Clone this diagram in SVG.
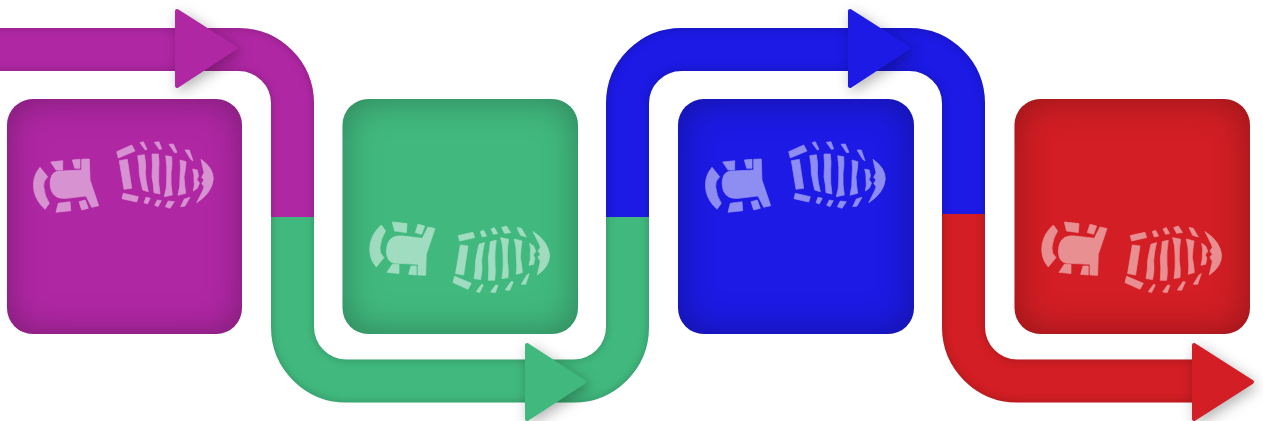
<svg xmlns="http://www.w3.org/2000/svg" xmlns:xlink="http://www.w3.org/1999/xlink" width="1263" height="421" viewBox="0 0 1263 421">
<style>
.band{fill:none;stroke-width:43}
.purple{stroke:#b027a4}.green{stroke:#41b97e}.blue{stroke:#1c1ae4}.red{stroke:#d21e24}
.head{stroke-width:4;stroke-linejoin:round;filter:url(#drop)}
.fpurple{fill:#b027a4}.fgreen{fill:#41b97e}.fblue{fill:#1c1ae4}.fred{fill:#d21e24}
.card{filter:url(#insetBig)}
.print{fill:#fff;stroke:#fff;stroke-width:.7;stroke-linejoin:round;opacity:.5}
</style>
<defs>
<filter id="insetBig" filterUnits="userSpaceOnUse" x="-60" y="40" width="1400" height="360" color-interpolation-filters="sRGB">
<feComponentTransfer in="SourceAlpha" result="inv"><feFuncA type="table" tableValues="1 0"/></feComponentTransfer>
<feGaussianBlur in="inv" stdDeviation="18" result="b"/>
<feFlood flood-color="#000" flood-opacity=".3"/>
<feComposite in2="b" operator="in"/>
<feComposite in2="SourceAlpha" operator="in" result="s"/>
<feMerge><feMergeNode in="SourceGraphic"/><feMergeNode in="s"/></feMerge>
</filter>
<filter id="inset" filterUnits="userSpaceOnUse" x="-100" y="-60" width="1500" height="600" color-interpolation-filters="sRGB">
<feComponentTransfer in="SourceAlpha" result="inv"><feFuncA type="table" tableValues="1 0"/></feComponentTransfer>
<feGaussianBlur in="inv" stdDeviation="5" result="b"/>
<feFlood flood-color="#000" flood-opacity=".22"/>
<feComposite in2="b" operator="in"/>
<feComposite in2="SourceAlpha" operator="in" result="s"/>
<feMerge><feMergeNode in="SourceGraphic"/><feMergeNode in="s"/></feMerge>
</filter>
<filter id="drop" filterUnits="userSpaceOnUse" x="-100" y="-60" width="1500" height="600" color-interpolation-filters="sRGB">
<feDropShadow dx="3" dy="4" stdDeviation="7" flood-color="#000" flood-opacity=".3"/>
</filter>
<clipPath id="cPurple"><rect x="0" y="0" width="340" height="217"/></clipPath>
<clipPath id="cGreen"><rect x="250" y="217" width="420" height="204"/></clipPath>
<clipPath id="cBlue"><rect x="590" y="0" width="420" height="214"/><rect x="590" y="214" width="60" height="3"/></clipPath>
<clipPath id="cRed"><rect x="920" y="214" width="290" height="207"/></clipPath>
<g id="print">
<path d="M40 167.3L47.7 176.7Q43 181 43.7 186.7Q44.5 196 49.3 203.3L45 209.3Q36 201 34 191Q31.5 177 40 167.3Z"/>
<path d="M50.7 162L62.7 160.7V170H56Z"/>
<path d="M72.3 160L80 159.3V168.3H74.7Z"/>
<path d="M81.7 159.3L89.3 159L90 180L98.7 205.7L91.7 207.3L86 196L66.7 198.3Q55 199.5 51.5 191Q48.5 182 52 175Q55 170.5 61 171L81.7 170Z"/>
<path d="M58.3 203.3L70 201.7L70.7 210.7L56 212.3Z"/>
<path d="M79 201.7L85.3 200L88.3 208.3L81.7 210Z"/>
<path d="M116.7 151.7L131.7 145L135 151L118.3 158Z"/>
<path d="M119.3 160.7L127.3 159.3L131.7 188.3L124 189.3Z"/>
<path d="M123.3 193.3L138.3 196.7L136.7 202L122 198.7Z"/>
<path d="M137.7 155.7L144.3 154.7Q146.5 165 145.3 173Q146 183 148.3 191.7L142.7 190Q140.5 181 139.3 173.3Q139.5 165 137.7 155.7Z"/>
<path d="M152 154L158.3 154Q159.5 162 158.7 170Q158 183 160 194L154 192.7Q153.5 184 152 176.7Q153 165 152 154Z"/>
<path d="M165.7 155.7L171.7 156.7Q172.5 165 171 173.3Q170.5 185 172.3 195L164.3 196.7Q167 188 166.7 180Q167.5 167 165.7 155.7Z"/>
<path d="M180 160L186 161.7Q185.5 170 184 176.7Q184.5 186 185.7 193.3L178 195.3Q180.5 186 180 177.3Q181 168 180 160Z"/>
<path d="M192.7 169L197.3 170L198.5 176L197 179.5L199.5 183L197.3 188.3L193.3 191Q195 185 194 180Q194.5 175 192.7 169Z"/>
<path d="M201 159.3Q213.5 168 213.3 179Q212 193 196.7 202.7L203 190L204 186.7L201.7 183.3L204 180L201.7 177.3L204 172.7Z"/>
<path d="M140 142.7L143.3 141.7L147 149.3L145.3 150Z"/>
<path d="M154.3 142.3L159 141.7L161.7 149L159.3 149.3Z"/>
<path d="M169 144.3L173.3 144L177 152.3L174.7 152.7Z"/>
<path d="M185 150L189.3 150L193 160.7L190.7 159.3Z"/>
<path d="M146 197.3L150.3 198.3L147.3 204L144 202.7Z"/>
<path d="M157.3 200L161.3 200.7L158 206.7L154.7 205.3Z"/>
<path d="M168.3 201L174.3 201.7L170 208.3L165.3 206.7Z"/>
<path d="M184.3 199L190 197.3L185 206L180.7 206.7Z"/>
</g>
</defs>
<g id="connectors">
<g clip-path="url(#cPurple)"><path class="band purple" filter="url(#inset)" d="M-40 49.5H238.5A54 54 0 0 1 292.5 103.5V260"/></g>
<g clip-path="url(#cGreen)"><path class="band green" filter="url(#inset)" d="M292.5 180V327A54 54 0 0 0 346.5 381H573.5A54 54 0 0 0 627.5 327V180"/></g>
<g clip-path="url(#cBlue)"><path class="band blue" filter="url(#inset)" d="M627.5 260V103.5A54 54 0 0 1 681.5 49.5H909.5A54 54 0 0 1 963.5 103.5V260"/></g>
<g clip-path="url(#cRed)"><path class="band red" filter="url(#inset)" d="M963.5 170V327A54 54 0 0 0 1017.5 381H1260"/></g>
<polygon class="head fpurple purple" points="177,11 235,48 177,86"/>
<polygon class="head fgreen green" points="527,345 584,382 527,419"/>
<polygon class="head fblue blue" points="850,11 908,48 850,86"/>
<polygon class="head fred red" points="1194,345 1252,382 1194,419"/>
</g>
<g id="step-purple"><rect class="card fpurple" x="7" y="99" width="235" height="235" rx="26"/><use class="print" xlink:href="#print" href="#print"/></g>
<g id="step-green"><rect class="card fgreen" x="342.5" y="99" width="235.5" height="235" rx="26"/><use class="print" xlink:href="#print" href="#print" transform="translate(336.3 434.3) scale(1 -1)"/></g>
<g id="step-blue"><rect class="card fblue" x="678" y="99" width="236" height="235" rx="26"/><use class="print" xlink:href="#print" href="#print" transform="translate(672 0)"/></g>
<g id="step-red"><rect class="card fred" x="1014.5" y="99" width="235.5" height="235" rx="26"/><use class="print" xlink:href="#print" href="#print" transform="translate(1008.3 434.3) scale(1 -1)"/></g>
</svg>
